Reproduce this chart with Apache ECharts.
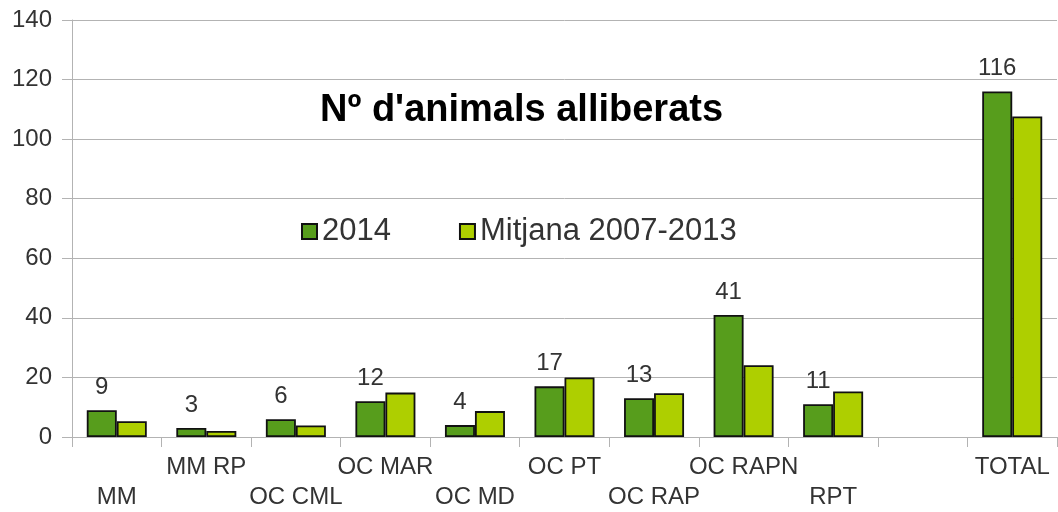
<!DOCTYPE html>
<html>
<head>
<meta charset="utf-8">
<script src="https://cdn.jsdelivr.net/npm/echarts@6/dist/echarts.min.js"></script>
<style>html,body{margin:0;padding:0;background:#fff;}#c{width:1058px;height:512px;}</style>
</head>
<body>
<div id="c"></div>
<script>
const categories = ['MM', 'MM RP', 'OC CML', 'OC MAR', 'OC MD', 'OC PT', 'OC RAP', 'OC RAPN', 'RPT', '', 'TOTAL'];
const series2014 = [9, 3, 6, 12, 4, 17, 13, 41, 11, null, 116];
const seriesMitjana = [5.3, 2, 3.9, 14.9, 8.7, 20, 14.7, 24.1, 15.3, null, 107.6];
const yTicks = [0, 20, 40, 60, 80, 100, 120, 140];
const seriesNames = ['2014', 'Mitjana 2007-2013'];
const titleText = "Nº d'animals alliberats";

const FONT = '"Liberation Sans", Arial, sans-serif';
const chart = echarts.init(document.getElementById('c'), null, {renderer: 'canvas'});
chart.setOption({
  animation: false,
  backgroundColor: '#ffffff',
  title: {
    text: titleText,
    left: 315, top: 87,
    textStyle: {fontFamily: FONT, fontSize: 38, fontWeight: 'bold', color: '#000'}
  },
  legend: {
    data: seriesNames,
    left: 296, top: 211,
    itemWidth: 15, itemHeight: 15, itemGap: 68,
    icon: 'rect',
    textStyle: {fontFamily: FONT, fontSize: 31, color: '#333'}
  },
  grid: {left: 72, right: 1, top: 20, bottom: 75, containLabel: false},
  xAxis: {
    type: 'category',
    data: categories,
    axisLine: {show: true, lineStyle: {color: '#b3b3b3', width: 1}},
    axisTick: {show: true, length: 10, alignWithLabel: false, lineStyle: {color: '#b3b3b3'}},
    axisLabel: {
      interval: 0, margin: 15,
      fontFamily: FONT, fontSize: 24, color: '#333', lineHeight: 30,
      formatter: function (v, i) { return (i % 2 === 1 || i === categories.length - 1) ? v : '\n' + v; }
    }
  },
  yAxis: {
    type: 'value',
    min: yTicks[0], max: yTicks[yTicks.length - 1], interval: 20,
    axisLine: {show: true, lineStyle: {color: '#b3b3b3', width: 1}},
    axisTick: {show: true, length: 10, lineStyle: {color: '#b3b3b3'}},
    splitLine: {show: true, lineStyle: {color: '#b3b3b3', width: 1}},
    axisLabel: {margin: 20, fontFamily: FONT, fontSize: 24, color: '#333'}
  },
  series: [
    {
      name: seriesNames[0], type: 'bar', data: series2014,
      barWidth: 30, barGap: '0%',
      itemStyle: {color: '#579d1c', borderColor: '#111', borderWidth: 1.8},
      label: {show: true, position: 'top', distance: 11, fontFamily: FONT, fontSize: 24, color: '#333'}
    },
    {
      name: seriesNames[1], type: 'bar', data: seriesMitjana,
      barWidth: 30, barGap: '0%',
      itemStyle: {color: '#aecf00', borderColor: '#111', borderWidth: 1.8}
    }
  ]
});
</script>
</body>
</html>
